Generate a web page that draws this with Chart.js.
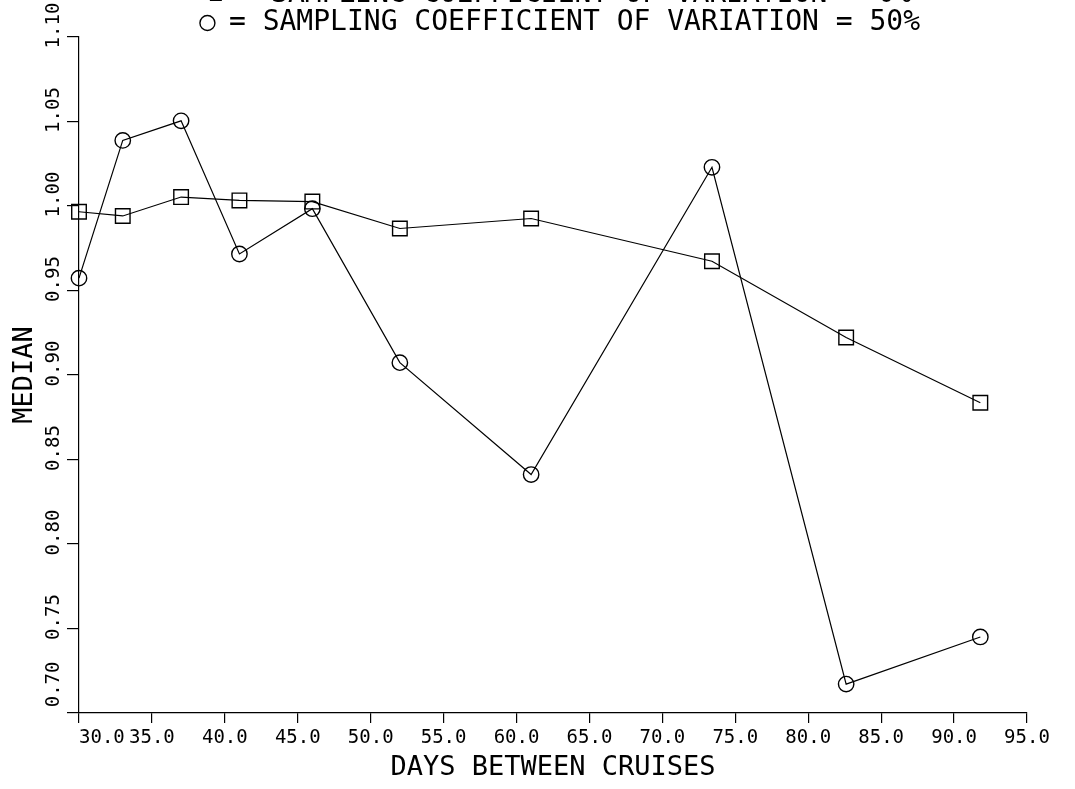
<!DOCTYPE html>
<html>
<head>
<meta charset="utf-8">
<script src="https://cdn.jsdelivr.net/npm/chart.js@4/dist/chart.umd.min.js"></script>
<style>
  html, body { margin: 0; padding: 0; background: #ffffff; }
  #wrap { width: 1075px; height: 789px; position: relative; }
</style>
</head>
<body>
<div id="wrap"><canvas id="c" width="1075" height="789"></canvas></div>
<script>
// ---- data ----
const days = [30, 33, 37, 41, 46, 52, 61, 73.4, 82.6, 91.8];
const medianCv0 = [0.9966, 0.9941, 1.0053, 1.0033, 1.0026, 0.9867, 0.9926, 0.9673, 0.9222, 0.8836];
const medianCv50 = [0.9573, 1.0388, 1.0504, 0.9716, 0.9984, 0.9073, 0.8411, 1.0229, 0.7171, 0.7450];
const xTickValues = [30, 35, 40, 45, 50, 55, 60, 65, 70, 75, 80, 85, 90, 95];
const yTickValues = [0.70, 0.75, 0.80, 0.85, 0.90, 0.95, 1.00, 1.05, 1.10];
const seriesLabels = [
  '= SAMPLING COEFFICIENT OF VARIATION = 0%',
  '= SAMPLING COEFFICIENT OF VARIATION = 50%'
];
const xTitle = 'DAYS BETWEEN CRUISES';
const yTitle = 'MEDIAN';

const FONT = "'DejaVu Sans Mono', 'Liberation Mono', monospace";
const INK = '#000000';
const NONE = 'rgba(0,0,0,0)';

function toPoints(xs, ys) { return xs.map((x, i) => ({ x: x, y: ys[i] })); }
// the plotter nudged the first label of each axis inward, away from the corner
function xLabel(v) { const s = Number(v).toFixed(1); return v === xTickValues[0] ? '    ' + s : s; }
function yLabel(v) { const s = Number(v).toFixed(2); return (v === yTickValues[0] ? '     ' : '  ') + s; }

new Chart(document.getElementById('c'), {
  type: 'line',
  data: {
    datasets: [
      {
        label: seriesLabels[0],
        data: toPoints(days, medianCv0),
        borderColor: INK, borderWidth: 1.2, backgroundColor: NONE,
        pointStyle: 'rect', pointRadius: 10.3, pointHoverRadius: 10.3,
        pointBorderColor: INK, pointBorderWidth: 1.4, pointBackgroundColor: NONE,
        tension: 0, clip: false
      },
      {
        label: seriesLabels[1],
        data: toPoints(days, medianCv50),
        borderColor: INK, borderWidth: 1.2, backgroundColor: NONE,
        pointStyle: 'circle', pointRadius: 7.7, pointHoverRadius: 7.7,
        pointBorderColor: INK, pointBorderWidth: 1.4, pointBackgroundColor: NONE,
        tension: 0, clip: false
      }
    ]
  },
  options: {
    responsive: false,
    animation: false,
    events: [],
    layout: { padding: { left: 40, right: -5, top: -19, bottom: 0 } },
    plugins: {
      tooltip: { enabled: false },
      legend: {
        display: true, position: 'top', align: 'center', maxHeight: 56,
        labels: {
          usePointStyle: true, boxWidth: 15, boxHeight: 10.6, padding: 0,
          color: INK, font: { family: FONT, size: 28 }
        }
      }
    },
    scales: {
      x: {
        type: 'linear', min: 30, max: 95,
        afterBuildTicks: s => { s.ticks = xTickValues.map(v => ({ value: v })); },
        afterFit: s => { s.height = 76; s.paddingLeft = 0; s.paddingRight = 48; },
        ticks: {
          autoSkip: false, minRotation: 0, maxRotation: 0, padding: 3.6,
          color: INK, font: { family: FONT, size: 19 },
          callback: v => xLabel(v)
        },
        grid: { drawOnChartArea: false, drawTicks: true, tickLength: 10, color: INK, lineWidth: 1.2 },
        border: { display: true, color: INK, width: 1.2 },
        title: { display: true, text: xTitle, color: INK, font: { family: FONT, size: 27 }, padding: { top: 0, bottom: 4.8 } }
      },
      y: {
        type: 'linear', min: 0.70, max: 1.10,
        afterBuildTicks: s => { s.ticks = yTickValues.map(v => ({ value: v })); },
        afterFit: s => { s.width = 39; s.paddingTop = 0; s.paddingBottom = 0; },
        ticks: {
          autoSkip: false, minRotation: 90, maxRotation: 90, crossAlign: 'center', padding: -38.5,
          color: INK, font: { family: FONT, size: 19 },
          callback: v => yLabel(v)
        },
        grid: { drawOnChartArea: false, drawTicks: true, tickLength: 12, color: INK, lineWidth: 1.2 },
        border: { display: true, color: INK, width: 1.2 },
        title: { display: true, text: yTitle, color: INK, font: { family: FONT, size: 27 }, padding: { top: -31.2, bottom: 0 } }
      }
    }
  }
});
</script>
</body>
</html>
